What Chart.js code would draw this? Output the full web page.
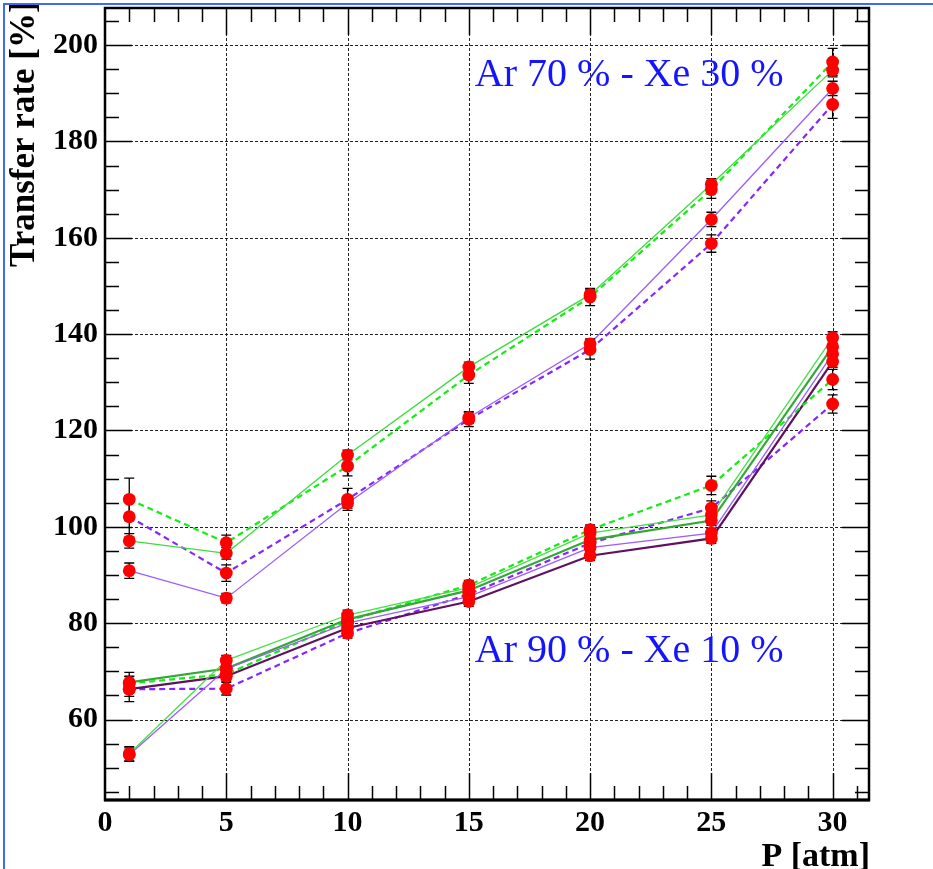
<!DOCTYPE html>
<html>
<head>
<meta charset="utf-8">
<title>Transfer rate vs pressure</title>
<script src="https://cdn.jsdelivr.net/npm/chart.js@4.4.1/dist/chart.umd.min.js"></script>
<style>
  html, body { margin: 0; padding: 0; background: #fff; }
  canvas { display: block; }
</style>
</head>
<body>
<canvas id="transferRate" width="933" height="869"></canvas>
<script>
// pressure points (atm)
const pressure = [1, 5, 10, 15, 20, 25, 30];

// Ar 70 % - Xe 30 %
const ar70GreenSolid     = [97.1, 94.5, 114.9, 133.2, 148.2, 171.1, 194.8];
const ar70GreenSolidErr  = [1.5, 1.2, 1.0, 1.0, 1.0, 1.2, 1.4];
const ar70GreenDashed    = [105.7, 96.7, 112.6, 131.5, 147.7, 170.0, 196.5];
const ar70GreenDashedErr = [4.4, 1.6, 2.0, 1.7, 1.8, 1.8, 2.8];
const ar70PurpleSolid    = [90.9, 85.2, 104.9, 122.7, 138.0, 163.8, 191.0];
const ar70PurpleSolidErr = [1.6, 1.0, 1.0, 1.2, 1.0, 1.5, 1.5];
const ar70PurpleDashed   = [102.1, 90.4, 105.7, 122.3, 136.8, 158.8, 187.7];
const ar70PurpleDashedErr= [4.3, 1.7, 2.3, 1.5, 2.0, 1.8, 2.9];

// Ar 90 % - Xe 10 %
const ar90LightGreen     = [52.9, 72.3, 81.7, 87.4, 98.7, 102.5, 139.3];
const ar90LightGreenErr  = [1.5, 1.0, 1.0, 1.0, 1.0, 1.0, 1.2];
const ar90LightPurple    = [52.7, 70.5, 80.0, 85.5, 95.7, 98.7, 135.9];
const ar90LightPurpleErr = [1.4, 1.0, 1.0, 1.0, 1.0, 1.0, 1.2];
const ar90Green          = [67.7, 70.6, 80.8, 86.8, 97.3, 101.3, 137.4];
const ar90GreenErr       = [2.1, 1.0, 1.0, 1.0, 1.0, 1.0, 1.2];
const ar90GreenDashed    = [67.5, 69.4, 80.5, 87.9, 99.4, 108.6, 130.6];
const ar90GreenDashedErr = [1.5, 1.0, 1.0, 1.0, 1.0, 1.9, 2.1];
const ar90DarkPurple     = [66.3, 69.0, 79.0, 84.5, 94.0, 97.6, 134.3];
const ar90DarkPurpleErr  = [1.5, 1.0, 1.0, 1.0, 1.0, 1.0, 1.2];
const ar90PurpleDashed   = [66.3, 66.4, 77.9, 86.0, 96.6, 103.9, 125.5];
const ar90PurpleDashedErr= [2.6, 1.3, 1.0, 1.0, 1.0, 1.5, 1.9];

const series = [
  { values: ar70GreenSolid,   errors: ar70GreenSolidErr,   color: '#3ddc3d', width: 1.3, dash: [] },
  { values: ar70GreenDashed,  errors: ar70GreenDashedErr,  color: '#14ec14', width: 2.2, dash: [6, 4] },
  { values: ar70PurpleSolid,  errors: ar70PurpleSolidErr,  color: '#9a5cff', width: 1.3, dash: [] },
  { values: ar70PurpleDashed, errors: ar70PurpleDashedErr, color: '#8526ff', width: 2.2, dash: [6, 4] },
  { values: ar90LightGreen,   errors: ar90LightGreenErr,   color: '#44e044', width: 1.3, dash: [] },
  { values: ar90LightPurple,  errors: ar90LightPurpleErr,  color: '#9a5cff', width: 1.3, dash: [] },
  { values: ar90Green,        errors: ar90GreenErr,        color: '#34a834', width: 2.2, dash: [] },
  { values: ar90GreenDashed,  errors: ar90GreenDashedErr,  color: '#14ec14', width: 2.2, dash: [6, 4] },
  { values: ar90DarkPurple,   errors: ar90DarkPurpleErr,   color: '#5e1260', width: 2.2, dash: [] },
  { values: ar90PurpleDashed, errors: ar90PurpleDashedErr, color: '#8526ff', width: 2.2, dash: [6, 4] }
];

const SERIF = '"Liberation Serif", "Times New Roman", serif';

// grid, error bars, markers, frame with inward ticks and labels
const rootFrame = {
  id: 'rootFrame',
  beforeDatasetsDraw(chart) {
    const { ctx, chartArea: a, scales: { x, y } } = chart;
    ctx.save();
    ctx.strokeStyle = '#222';
    ctx.lineWidth = 1;
    ctx.setLineDash([3, 2]);
    for (let v = 5; v <= 30; v += 5) {
      const px = Math.round(x.getPixelForValue(v)) + 0.5;
      ctx.beginPath(); ctx.moveTo(px, a.top); ctx.lineTo(px, a.bottom); ctx.stroke();
    }
    for (let v = 60; v <= 200; v += 20) {
      const py = Math.round(y.getPixelForValue(v)) + 0.5;
      ctx.beginPath(); ctx.moveTo(a.left, py); ctx.lineTo(a.right, py); ctx.stroke();
    }
    ctx.restore();
  },
  afterDatasetsDraw(chart) {
    const { ctx, scales: { y } } = chart;
    ctx.save();
    // error bars
    ctx.strokeStyle = '#000';
    ctx.lineWidth = 1.3;
    chart.data.datasets.forEach((ds, i) => {
      const meta = chart.getDatasetMeta(i);
      meta.data.forEach((pt, j) => {
        const e = ds.errors[j];
        const v = ds.data[j].y;
        const top = y.getPixelForValue(v + e), bot = y.getPixelForValue(v - e);
        ctx.beginPath();
        ctx.moveTo(pt.x, top); ctx.lineTo(pt.x, bot);
        ctx.moveTo(pt.x - 5, top); ctx.lineTo(pt.x + 5, top);
        ctx.moveTo(pt.x - 5, bot); ctx.lineTo(pt.x + 5, bot);
        ctx.stroke();
      });
    });
    // red markers
    ctx.fillStyle = '#ff0000';
    chart.data.datasets.forEach((ds, i) => {
      chart.getDatasetMeta(i).data.forEach(pt => {
        ctx.beginPath();
        ctx.arc(pt.x, pt.y, 6.4, 0, Math.PI * 2);
        ctx.fill();
      });
    });
    ctx.restore();
  },
  afterDraw(chart) {
    const { ctx, chartArea: a, scales: { x, y } } = chart;
    ctx.save();
    ctx.strokeStyle = '#000';
    ctx.lineWidth = 1.5;
    // inward ticks on all four sides
    ctx.beginPath();
    for (let v = 1; v <= 31; v++) {
      const len = v % 5 === 0 ? 27 : 14;
      const px = Math.round(x.getPixelForValue(v)) + 0.5;
      ctx.moveTo(px, a.bottom); ctx.lineTo(px, a.bottom - len);
      ctx.moveTo(px, a.top); ctx.lineTo(px, a.top + len);
    }
    for (let v = 45; v <= 205; v += 5) {
      const len = v % 20 === 0 ? 27 : 14;
      const py = Math.round(y.getPixelForValue(v)) + 0.5;
      ctx.moveTo(a.left, py); ctx.lineTo(a.left + len, py);
      ctx.moveTo(a.right, py); ctx.lineTo(a.right - len, py);
    }
    ctx.stroke();
    // frame
    ctx.lineWidth = 2.5;
    ctx.strokeRect(a.left, a.top, a.right - a.left, a.bottom - a.top);
    ctx.beginPath();
    ctx.lineWidth = 3;
    ctx.moveTo(a.left - 1, a.bottom); ctx.lineTo(a.right + 1, a.bottom);
    ctx.stroke();

    // axis titles
    ctx.fillStyle = '#000';
    ctx.font = 'bold 34px ' + SERIF;
    ctx.textBaseline = 'alphabetic';
    ctx.textAlign = 'right';
    ctx.fillText('P [atm]', a.right + 1, 866);
    ctx.font = 'bold 35px ' + SERIF;
    ctx.translate(34, 267);
    ctx.rotate(-Math.PI / 2);
    ctx.textAlign = 'left';
    ctx.fillText('Transfer rate [%]', 0, 0);
    ctx.setTransform(1, 0, 0, 1, 0, 0);

    // mixture labels
    ctx.fillStyle = '#1414ff';
    ctx.font = '40px ' + SERIF;
    ctx.textAlign = 'left';
    ctx.fillText('Ar 70 % - Xe 30 %', x.getPixelForValue(15.25), y.getPixelForValue(191.5));
    ctx.fillText('Ar 90 % - Xe 10 %', x.getPixelForValue(15.25), y.getPixelForValue(71.9));

    // page border
    ctx.strokeStyle = '#3a6cf4';
    ctx.lineWidth = 2;
    ctx.beginPath();
    ctx.moveTo(4, chart.height); ctx.lineTo(4, 4); ctx.lineTo(chart.width, 4);
    ctx.stroke();
    ctx.restore();
  }
};

const ctx = document.getElementById('transferRate').getContext('2d');
const transferChart = new Chart(ctx, {
  type: 'line',
  data: {
    datasets: series.map(s => ({
      data: pressure.map((p, i) => ({ x: p, y: s.values[i] })),
      errors: s.errors,
      borderColor: s.color,
      borderWidth: s.width,
      borderDash: s.dash,
      pointRadius: 0,
      tension: 0,
      fill: false
    }))
  },
  options: {
    responsive: false,
    animation: false,
    events: [],
    layout: { padding: { top: 8, right: 64, left: 0, bottom: 0 } },
    plugins: { legend: { display: false }, tooltip: { enabled: false } },
    scales: {
      x: {
        type: 'linear',
        min: 0,
        max: 31.5,
        afterFit(scale) {
          scale.height = 69;
          scale.paddingLeft = 0;
          scale.paddingRight = 0;
        },
        grid: { display: false, drawTicks: false, tickLength: 0 },
        border: { display: false },
        ticks: {
          stepSize: 5,
          includeBounds: false,
          autoSkip: false,
          maxRotation: 0,
          padding: 5,
          color: '#000',
          font: { family: SERIF, size: 30, weight: 'bold' }
        }
      },
      y: {
        type: 'linear',
        min: 43.3,
        max: 207.7,
        afterFit(scale) {
          scale.width = 105;
          scale.paddingTop = 0;
          scale.paddingBottom = 0;
        },
        grid: { display: false, drawTicks: false, tickLength: 0 },
        border: { display: false },
        ticks: {
          stepSize: 20,
          includeBounds: false,
          autoSkip: false,
          padding: 7,
          color: '#000',
          font: { family: SERIF, size: 30, weight: 'bold' }
        }
      }
    }
  },
  plugins: [rootFrame]
});
</script>
</body>
</html>
